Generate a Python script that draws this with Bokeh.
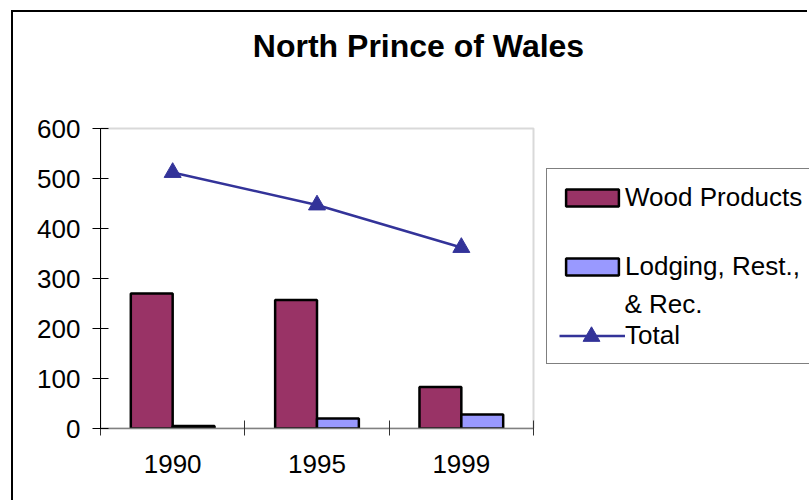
from bokeh.plotting import figure
from bokeh.models import (ColumnDataSource, Range1d, FixedTicker, Legend, LegendItem,
                          Label, BoxAnnotation)
from bokeh.transform import dodge
from bokeh.embed import file_html
from bokeh.resources import INLINE

# ---- data ----
years = ["1990", "1995", "1999"]
wood_products = [270, 257, 83]
lodging_rest_rec = [5, 20, 28]
total = [512, 447, 362]
y_ticks = [0, 100, 200, 300, 400, 500, 600]
y_max = 600
series_names = ["Wood Products", "Lodging, Rest.,", "& Rec.", "Total"]

FONT = "Liberation Sans"

# ---- layout (pixels) ----
W, H = 796, 490            # canvas size
LEFT, BOTTOM = 87, 74      # room for the axes
PLOT_W, PLOT_H = 433, 300  # size of the chart's plotting box
frame_w = W - LEFT
frame_h = H - BOTTOM
n = len(years)
x_end = n * frame_w / PLOT_W
y_end = y_max * frame_h / PLOT_H


def px_x(px):  # pixels right of the plotting box's left edge -> data x
    return px * n / PLOT_W


def px_y(px):  # pixels above the plotting box's bottom edge -> data y
    return px * y_max / PLOT_H


xpos = [i + 0.5 for i in range(n)]
src = ColumnDataSource(dict(x=xpos, wood=wood_products, lodging=lodging_rest_rec, total=total))

p = figure(width=W, height=H, output_backend="svg", toolbar_location=None,
           x_range=Range1d(0, x_end), y_range=Range1d(0, y_end),
           min_border_left=LEFT, min_border_right=0, min_border_top=0, min_border_bottom=BOTTOM,
           background_fill_color="white", border_fill_color="white",
           styles={"border-left": "2px solid black", "border-top": "2px solid black",
                   "margin-left": "11px", "margin-top": "10px"})

p.grid.visible = False
p.outline_line_color = None

# plotting-area box (gray)
p.add_layout(BoxAnnotation(left=0, right=n, bottom=0, top=y_max, fill_alpha=0,
                           line_color="#808080", line_width=2, level="underlay"))

bw = 0.29
r_wood = p.vbar(x=dodge("x", -bw / 2, range=p.x_range), top="wood", width=bw, bottom=0, source=src,
                fill_color="#993366", line_color="black", line_width=2.5)
r_lodg = p.vbar(x=dodge("x", bw / 2, range=p.x_range), top="lodging", width=bw, bottom=0, source=src,
                fill_color="#9999FF", line_color="black", line_width=2.5)
r_line = p.line(x="x", y="total", source=src, line_color="#333399", line_width=2.5)
r_mark = p.scatter(x="x", y="total", source=src, marker="triangle", size=17,
                   fill_color="#333399", line_color="#333399")

# title
p.add_layout(Label(x=px_x(318), y=px_y(383), text="North Prince of Wales",
                   text_align="center", text_baseline="alphabetic", text_font=FONT,
                   text_font_size="32px", text_font_style="bold", text_color="black"))

# y axis
ya = p.yaxis[0]
ya.bounds = (0, y_max)
ya.ticker = FixedTicker(ticks=y_ticks, minor_ticks=[])
ya.axis_line_color = "black"
ya.major_tick_line_color = "black"
ya.major_tick_in = 8
ya.major_tick_out = 8
ya.major_label_standoff = 12
ya.major_label_text_font = FONT
ya.major_label_text_font_size = "26px"
ya.major_label_text_color = "black"

# x axis: labels at category centres, ticks at boundaries
xa = p.xaxis[0]
xa.bounds = (0, n)
xa.ticker = FixedTicker(ticks=xpos, minor_ticks=list(range(n + 1)))
xa.major_label_overrides = {x: y for x, y in zip(xpos, years)}
xa.axis_line_color = "#808080"
xa.axis_line_width = 1.5
xa.major_tick_line_color = None
xa.major_tick_in = 0
xa.major_tick_out = 7
xa.minor_tick_line_color = "#333333"
xa.minor_tick_in = 8
xa.minor_tick_out = 7
xa.major_label_standoff = 19
xa.major_label_text_font = FONT
xa.major_label_text_font_size = "26px"
xa.major_label_text_color = "black"

legend = Legend(items=[
    LegendItem(label=series_names[0], renderers=[r_wood]),
    LegendItem(label=series_names[1], renderers=[r_lodg]),
    LegendItem(label=series_names[3], renderers=[r_line]),
], location=(446, 64), glyph_width=66, glyph_height=21, label_standoff=0,
    label_text_font=FONT, label_text_font_size="26px", label_text_color="black",
    label_height=32, padding=12, spacing=37, margin=0,
    border_line_color="black", border_line_width=1.5, background_fill_alpha=0)
p.add_layout(legend, "center")

# second line of the "Lodging" entry
p.add_layout(Label(x=px_x(524), y=px_y(125), text=series_names[2], text_align="left",
                   text_baseline="middle", text_font=FONT, text_font_size="26px",
                   text_color="black"))

# larger triangle over the "Total" legend entry
legend_mark = Legend(items=[LegendItem(label=" ", renderers=[r_mark])],
                     location=(470, 71), glyph_width=42, glyph_height=42, label_standoff=0,
                     label_text_font_size="1px", padding=0, spacing=0, margin=0,
                     border_line_color=None, background_fill_alpha=0)
p.add_layout(legend_mark, "center")

open("out.html", "w").write(file_html(p, INLINE))
